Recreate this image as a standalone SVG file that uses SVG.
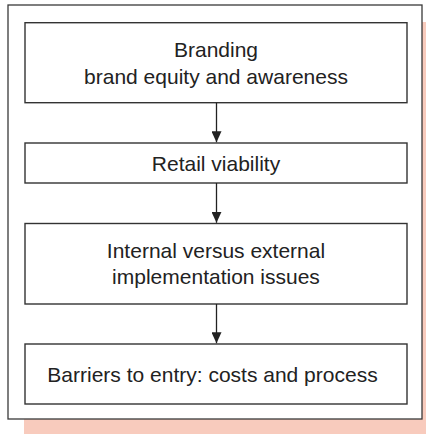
<svg xmlns="http://www.w3.org/2000/svg" width="426" height="434" viewBox="0 0 426 434">
  <style>
    .frame { fill: #ffffff; stroke: #3a3a3a; stroke-width: 1.3; }
    .box { fill: #ffffff; stroke: #333333; stroke-width: 1.4; }
    .label { font-family: "Liberation Sans", Arial, sans-serif; font-size: 21px; fill: #222222; text-anchor: middle; }
    .link { stroke: #222222; stroke-width: 1.3; fill: none; }
  </style>
  <defs>
    <marker id="arrow" viewBox="0 0 11 10" refX="11" refY="5" markerWidth="11" markerHeight="10" markerUnits="userSpaceOnUse" orient="auto">
      <path d="M0,0 L11,5 L0,10 Z" fill="#222222"/>
    </marker>
  </defs>

  <!-- drop shadow panel and outer frame -->
  <rect x="24" y="22" width="402" height="412" fill="#f8cbbd"/>
  <rect class="frame" x="8" y="5" width="414" height="414"/>

  <g id="branding">
    <rect class="box" x="25" y="22.7" width="382" height="80"/>
    <text class="label" x="216" y="56.5">Branding</text>
    <text class="label" x="216" y="83.5">brand equity and awareness</text>
  </g>

  <g id="retail-viability">
    <rect class="box" x="25" y="143" width="382" height="40"/>
    <text class="label" x="216" y="170.5">Retail viability</text>
  </g>

  <g id="implementation">
    <rect class="box" x="25" y="223.5" width="382" height="80.5"/>
    <text class="label" x="216" y="257.5">Internal versus external</text>
    <text class="label" x="216" y="284">implementation issues</text>
  </g>

  <g id="barriers">
    <rect class="box" x="25" y="344" width="382" height="60"/>
    <text class="label" x="212.5" y="381.5">Barriers to entry: costs and process</text>
  </g>

  <g id="connectors">
    <line class="link" x1="216.5" y1="102.7" x2="216.5" y2="142.3" marker-end="url(#arrow)"/>
    <line class="link" x1="216.5" y1="183" x2="216.5" y2="222.8" marker-end="url(#arrow)"/>
    <line class="link" x1="216.5" y1="304" x2="216.5" y2="343.3" marker-end="url(#arrow)"/>
  </g>
</svg>
